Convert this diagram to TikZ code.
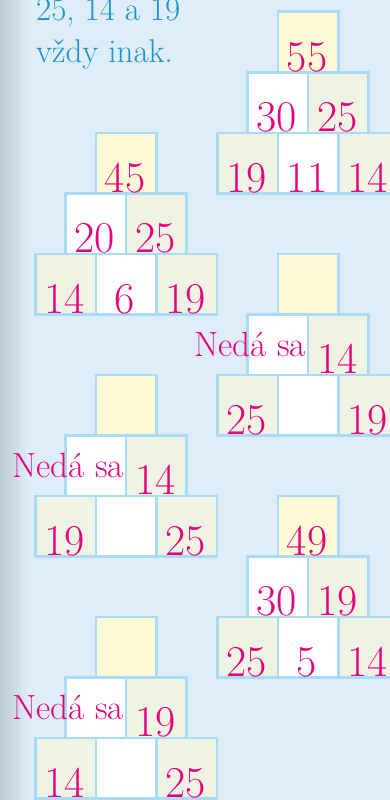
\documentclass[tikz,border=0pt]{standalone}
\usepackage{fontspec}
\definecolor{bgblue}{HTML}{DFEDF8}
\definecolor{shadowgray}{HTML}{BCCAD5}
\definecolor{celltop}{HTML}{FFFAD6}
\definecolor{cellgreen}{HTML}{EEF3E3}
\definecolor{cellline}{HTML}{A8DBF5}
\definecolor{numpink}{HTML}{E5007D}
\definecolor{headblue}{HTML}{1A93D2}

% one pyramid: prefix, position of top cell, top, middle left/right, bottom left/mid/right
\newcommand{\pyramid}[8]{%
  \begin{scope}[shift={#2}]
    \node[cell,fill=celltop] (#1t) at (0,0) {};
    \node[cell,fill=white] (#1ml) at (-30.25,60.5) {};
    \node[cell,fill=cellgreen] (#1mr) at (30.25,60.5) {};
    \node[cell,fill=cellgreen] (#1bl) at (-60.5,121) {};
    \node[cell,fill=white] (#1bm) at (0,121) {};
    \node[cell,fill=cellgreen] (#1br) at (60.5,121) {};
    \node[num] (#1tn) at (#1t.south) {#3};
    \node[num] (#1mln) at (#1ml.south) {#4};
    \node[num] (#1mrn) at (#1mr.south) {#5};
    \node[num] (#1bln) at (#1bl.south) {#6};
    \node[num] (#1bmn) at (#1bm.south) {#7};
    \node[num] (#1brn) at (#1br.south) {#8};
  \end{scope}}

\begin{document}
\begin{tikzpicture}[x=1pt,y=-1pt,
    cell/.style={draw=cellline,line width=2.5pt,minimum width=60.5pt,
      minimum height=60.5pt,inner sep=0pt,outer sep=0pt},
    num/.style={anchor=base,inner sep=0pt,text=numpink,yshift=1pt,xshift=-1pt,
      font=\fontsize{44}{44}\selectfont},
    nomatch/.style={anchor=base east,inner sep=0pt,text=numpink,
      xshift=-2pt,yshift=18pt,font=\fontsize{35}{35}\selectfont},
    head/.style={anchor=base west,inner sep=0pt,text=headblue,
      font=\fontsize{33}{33}\selectfont}]
  \useasboundingbox (0,0) rectangle (390,800);
  \clip (0,0) rectangle (390,800);
  \fill[bgblue] (0,0) rectangle (390,800);
  \shade[left color=shadowgray,right color=bgblue] (0,0) rectangle (28,800);

  \node[head] (head1) at (36,21) {25, 14 a 19};
  \node[head] (head2) at (36,63) {vždy inak.};

  \pyramid{a}{(308,42)}{55}{30}{25}{19}{11}{14}
  \pyramid{b}{(126,163)}{45}{20}{25}{14}{6}{19}
  \pyramid{c}{(308,284)}{}{}{14}{25}{}{19}
  \node[nomatch] (cno) at (cml.south east) {Nedá sa};
  \pyramid{d}{(126,405)}{}{}{14}{19}{}{25}
  \node[nomatch] (dno) at (dml.south east) {Nedá sa};
  \pyramid{e}{(308,526)}{49}{30}{19}{25}{5}{14}
  \pyramid{f}{(126,647)}{}{}{19}{14}{}{25}
  \node[nomatch] (fno) at (fml.south east) {Nedá sa};
\end{tikzpicture}
\end{document}
